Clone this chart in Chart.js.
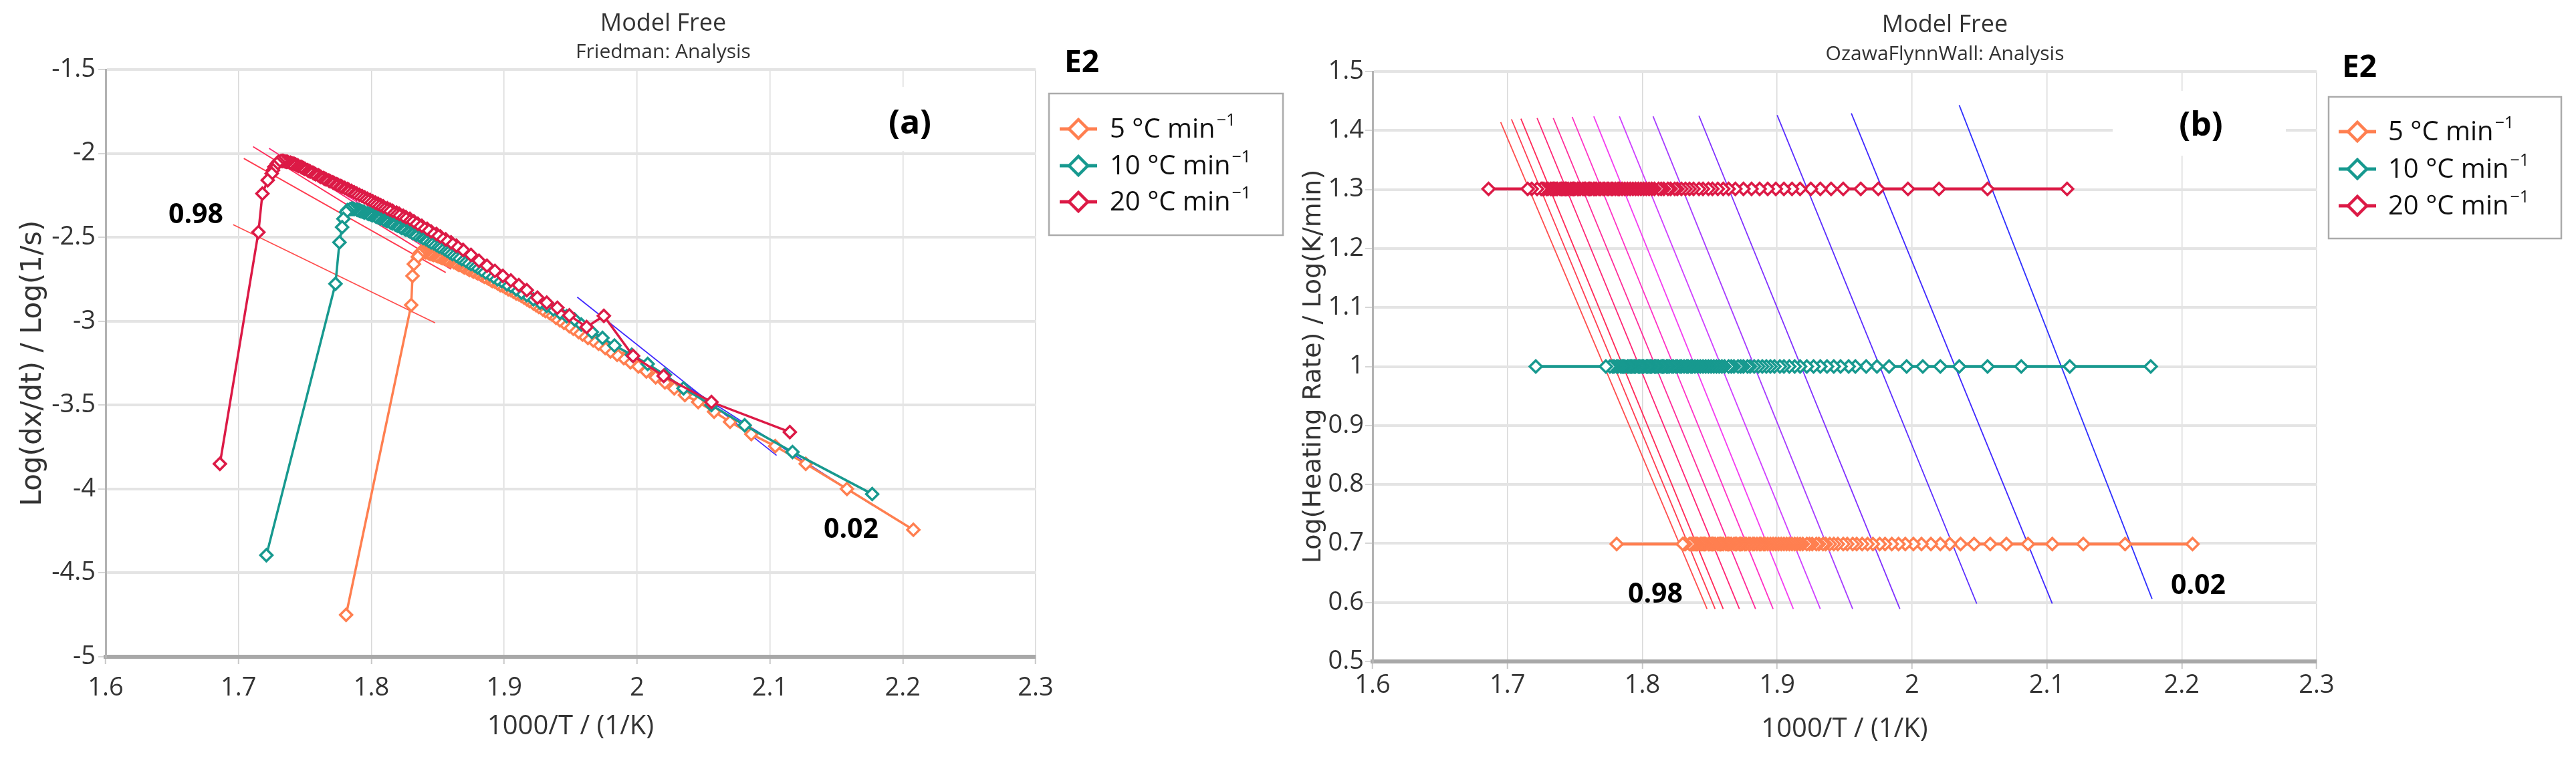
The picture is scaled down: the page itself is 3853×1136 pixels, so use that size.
<!DOCTYPE html>
<html>
<head>
<meta charset="utf-8">
<script src="https://cdn.jsdelivr.net/npm/chart.js@4.4.1/dist/chart.umd.min.js"></script>
<style>
  html, body { margin: 0; padding: 0; background: #fff; }
  body { width: 3853px; height: 1136px; position: relative; overflow: hidden; }
  canvas { position: absolute; top: 0; }
  #friedman { left: 0; }
  #ofw { left: 1935px; }
</style>
</head>
<body>
<canvas id="friedman" width="1935" height="1136"></canvas>
<canvas id="ofw" width="1918" height="1136"></canvas>
<script>
// conversion steps (alpha) shared by all heating rates
const conversion = [
  0.01, 0.02, 0.03, 0.04, 0.05, 0.06, 0.07, 0.08, 0.09, 0.10,
  0.11, 0.12, 0.13, 0.14, 0.15, 0.16, 0.17, 0.18, 0.19, 0.20,
  0.21, 0.22, 0.23, 0.24, 0.25, 0.26, 0.27, 0.28, 0.29, 0.30,
  0.31, 0.32, 0.33, 0.34, 0.35, 0.36, 0.37, 0.38, 0.39, 0.40,
  0.41, 0.42, 0.43, 0.44, 0.45, 0.46, 0.47, 0.48, 0.49, 0.50,
  0.51, 0.52, 0.53, 0.54, 0.55, 0.56, 0.57, 0.58, 0.59, 0.60,
  0.61, 0.62, 0.63, 0.64, 0.65, 0.66, 0.67, 0.68, 0.69, 0.70,
  0.71, 0.72, 0.73, 0.74, 0.75, 0.76, 0.77, 0.78, 0.79, 0.80,
  0.81, 0.82, 0.83, 0.84, 0.85, 0.86, 0.87, 0.88, 0.89, 0.90,
  0.91, 0.92, 0.93, 0.94, 0.95, 0.96, 0.97, 0.98, 0.99
]

// 1000/T at each conversion, 5 / 10 / 20 °C min-1
const x5 = [
  2.208, 2.158, 2.127, 2.104, 2.086, 2.070, 2.058, 2.046, 2.036, 2.028,
  2.021, 2.014, 2.007, 2.001, 1.995, 1.990, 1.985, 1.980, 1.976, 1.971,
  1.967, 1.963, 1.959, 1.956, 1.952, 1.949, 1.945, 1.942, 1.939, 1.936,
  1.934, 1.931, 1.929, 1.926, 1.924, 1.922, 1.919, 1.917, 1.915, 1.913,
  1.911, 1.909, 1.907, 1.905, 1.903, 1.901, 1.899, 1.897, 1.895, 1.893,
  1.891, 1.890, 1.888, 1.887, 1.885, 1.883, 1.882, 1.880, 1.879, 1.877,
  1.876, 1.874, 1.873, 1.872, 1.870, 1.869, 1.868, 1.866, 1.865, 1.864,
  1.863, 1.862, 1.860, 1.859, 1.858, 1.857, 1.856, 1.854, 1.853, 1.852,
  1.851, 1.850, 1.849, 1.847, 1.846, 1.845, 1.844, 1.843, 1.841, 1.840,
  1.839, 1.838, 1.837, 1.836, 1.835, 1.832, 1.831, 1.830, 1.781
]
const x10 = [
  2.177, 2.117, 2.081, 2.056, 2.035, 2.021, 2.008, 1.996, 1.983, 1.974,
  1.966, 1.958, 1.953, 1.947, 1.942, 1.937, 1.932, 1.927, 1.922, 1.917,
  1.913, 1.909, 1.905, 1.902, 1.898, 1.895, 1.892, 1.889, 1.886, 1.883,
  1.880, 1.878, 1.875, 1.873, 1.871, 1.868, 1.866, 1.864, 1.861, 1.859,
  1.857, 1.855, 1.853, 1.851, 1.849, 1.847, 1.845, 1.843, 1.841, 1.839,
  1.837, 1.836, 1.834, 1.833, 1.831, 1.829, 1.828, 1.826, 1.825, 1.823,
  1.822, 1.820, 1.819, 1.818, 1.816, 1.815, 1.814, 1.812, 1.811, 1.810,
  1.809, 1.807, 1.806, 1.805, 1.804, 1.803, 1.801, 1.800, 1.799, 1.798,
  1.797, 1.795, 1.794, 1.793, 1.792, 1.791, 1.790, 1.789, 1.787, 1.786,
  1.785, 1.784, 1.782, 1.781, 1.779, 1.778, 1.776, 1.773, 1.721
]
const x20 = [
  2.115, 2.056, 2.020, 1.997, 1.975, 1.962, 1.949, 1.940, 1.932, 1.925,
  1.917, 1.911, 1.905, 1.899, 1.893, 1.887, 1.881, 1.875, 1.869, 1.864,
  1.860, 1.856, 1.852, 1.849, 1.845, 1.842, 1.838, 1.835, 1.832, 1.829,
  1.826, 1.824, 1.821, 1.819, 1.816, 1.814, 1.812, 1.809, 1.807, 1.805,
  1.803, 1.801, 1.799, 1.797, 1.795, 1.793, 1.791, 1.789, 1.787, 1.785,
  1.783, 1.782, 1.780, 1.778, 1.777, 1.775, 1.774, 1.772, 1.771, 1.769,
  1.768, 1.766, 1.765, 1.764, 1.762, 1.761, 1.760, 1.758, 1.757, 1.756,
  1.754, 1.753, 1.752, 1.750, 1.749, 1.748, 1.747, 1.745, 1.744, 1.743,
  1.742, 1.741, 1.740, 1.739, 1.737, 1.736, 1.735, 1.734, 1.733, 1.732,
  1.730, 1.729, 1.727, 1.726, 1.725, 1.722, 1.718, 1.715, 1.686
]

// Friedman: Log(dx/dt) at each conversion
const fried5 = [
  -4.243, -4.000, -3.850, -3.745, -3.673, -3.600, -3.540, -3.482, -3.440, -3.400,
  -3.365, -3.335, -3.300, -3.270, -3.245, -3.220, -3.200, -3.180, -3.160, -3.135,
  -3.115, -3.100, -3.080, -3.065, -3.045, -3.030, -3.010, -2.995, -2.980, -2.960,
  -2.950, -2.940, -2.930, -2.915, -2.905, -2.895, -2.880, -2.870, -2.860, -2.850,
  -2.840, -2.835, -2.825, -2.815, -2.810, -2.800, -2.790, -2.785, -2.775, -2.765,
  -2.760, -2.755, -2.745, -2.740, -2.735, -2.725, -2.720, -2.715, -2.710, -2.705,
  -2.700, -2.695, -2.690, -2.685, -2.680, -2.675, -2.670, -2.665, -2.660, -2.655,
  -2.650, -2.648, -2.643, -2.640, -2.636, -2.633, -2.630, -2.625, -2.622, -2.618,
  -2.615, -2.612, -2.610, -2.605, -2.602, -2.600, -2.597, -2.594, -2.590, -2.587,
  -2.585, -2.585, -2.590, -2.600, -2.617, -2.660, -2.730, -2.904, -4.750
]
const fried10 = [
  -4.030, -3.780, -3.620, -3.500, -3.400, -3.320, -3.255, -3.200, -3.145, -3.100,
  -3.065, -3.020, -2.990, -2.970, -2.950, -2.930, -2.910, -2.890, -2.870, -2.845,
  -2.830, -2.810, -2.790, -2.780, -2.760, -2.750, -2.735, -2.720, -2.710, -2.695,
  -2.680, -2.670, -2.660, -2.650, -2.640, -2.630, -2.620, -2.610, -2.600, -2.590,
  -2.580, -2.570, -2.560, -2.555, -2.545, -2.535, -2.530, -2.520, -2.510, -2.505,
  -2.495, -2.490, -2.485, -2.480, -2.475, -2.465, -2.460, -2.455, -2.450, -2.445,
  -2.440, -2.432, -2.428, -2.424, -2.417, -2.413, -2.410, -2.403, -2.400, -2.396,
  -2.393, -2.387, -2.384, -2.380, -2.377, -2.374, -2.368, -2.365, -2.362, -2.360,
  -2.357, -2.352, -2.349, -2.346, -2.343, -2.340, -2.338, -2.335, -2.332, -2.330,
  -2.330, -2.332, -2.338, -2.350, -2.390, -2.440, -2.530, -2.777, -4.395
]
const fried20 = [
  -3.661, -3.482, -3.327, -3.207, -2.968, -3.035, -2.965, -2.920, -2.890, -2.860,
  -2.815, -2.785, -2.757, -2.730, -2.700, -2.670, -2.640, -2.605, -2.575, -2.550,
  -2.530, -2.512, -2.495, -2.480, -2.465, -2.450, -2.432, -2.420, -2.405, -2.390,
  -2.380, -2.372, -2.360, -2.353, -2.342, -2.335, -2.327, -2.316, -2.308, -2.300,
  -2.293, -2.285, -2.277, -2.270, -2.262, -2.254, -2.247, -2.240, -2.232, -2.224,
  -2.217, -2.213, -2.206, -2.199, -2.195, -2.188, -2.184, -2.177, -2.173, -2.166,
  -2.162, -2.155, -2.151, -2.147, -2.140, -2.135, -2.130, -2.124, -2.120, -2.115,
  -2.108, -2.104, -2.100, -2.092, -2.088, -2.084, -2.080, -2.074, -2.070, -2.066,
  -2.063, -2.060, -2.058, -2.055, -2.050, -2.050, -2.048, -2.045, -2.045, -2.045,
  -2.050, -2.060, -2.080, -2.100, -2.120, -2.160, -2.240, -2.470, -3.850
]

// OFW: Log(heating rate) for 5 / 10 / 20
const logRate = [0.699, 1.0, 1.301]

// isoconversional fit lines
const fitConversion = [0.98, 0.95, 0.9, 0.8, 0.7, 0.6, 0.5, 0.4, 0.3, 0.2, 0.1, 0.05, 0.02]
const fitColors = [
  '#ff4d4d', '#ff3b4f', '#ff2a58', '#ff2474', '#ff2a98', '#ff30c4', '#f43cf0',
  '#cf40ff', '#a63cff', '#8030ff', '#5a2cff', '#4028ff', '#3030ff'
]
const friedFitX0 = [1.696, 1.704, 1.711, 1.723, 1.736, 1.749, 1.765, 1.785, 1.809, 1.844, 1.905, 1.955, 2.036]
const friedFitY0 = [-2.425, -2.03, -1.96, -1.97, -2.02, -2.06, -2.13, -2.21, -2.30, -2.44, -2.75, -2.857, -3.38]
const friedFitX1 = [1.848, 1.856, 1.860, 1.872, 1.884, 1.897, 1.913, 1.933, 1.956, 1.991, 2.048, 2.105, 2.178]
const friedFitY1 = [-3.01, -2.71, -2.69, -2.72, -2.77, -2.82, -2.88, -2.97, -3.06, -3.24, -3.50, -3.80, -4.10]
const ofwFitX0 = [1.695, 1.703, 1.710, 1.722, 1.734, 1.748, 1.764, 1.783, 1.808, 1.842, 1.900, 1.955, 2.035]
const ofwFitY0 = [1.414, 1.419, 1.420, 1.421, 1.421, 1.423, 1.424, 1.424, 1.424, 1.425, 1.426, 1.429, 1.443]
const ofwFitX1 = [1.848, 1.854, 1.860, 1.872, 1.884, 1.897, 1.912, 1.932, 1.956, 1.991, 2.048, 2.104, 2.178]
const ofwFitY1 = [0.589, 0.589, 0.589, 0.589, 0.589, 0.589, 0.589, 0.589, 0.589, 0.589, 0.598, 0.598, 0.606]

const rateLabels = ['5 °C min', '10 °C min', '20 °C min']
const rateColors = ['#ff7f50', '#17998f', '#dc1a46']

const FONT = '"Open Sans", "Liberation Sans", sans-serif'
const AXIS_TITLE_FONT = '"DejaVu Sans", sans-serif'

function markerSet(i, points, lineW) {
  return {
    label: rateLabels[i],
    data: points,
    showLine: true,
    borderColor: rateColors[i],
    borderWidth: lineW,
    pointStyle: 'rectRot',
    pointRadius: 9,
    pointBorderColor: rateColors[i],
    pointBackgroundColor: '#fff',
    pointBorderWidth: 3.5
  }
}

function fitSet(i, x0, y0, x1, y1) {
  return {
    label: 'α = ' + fitConversion[i],
    data: [{ x: x0[i], y: y0[i] }, { x: x1[i], y: y1[i] }],
    showLine: true,
    borderColor: fitColors[i],
    borderWidth: 1.8,
    pointRadius: 0
  }
}

const fmt = v => String(Math.round(v * 100) / 100)

function axes(o) {
  return {
    x: {
      type: 'linear', min: 1.6, max: 2.3,
      ticks: { stepSize: 0.1, font: { family: FONT, size: 38 }, color: '#333', padding: o.xTickPad, callback: fmt },
      grid: { color: '#d9d9d9', lineWidth: 1.5, tickLength: 11, tickColor: '#c8c8c8', tickWidth: 2 },
      border: { display: true, color: '#a8a8a8', width: 6 },
      title: { display: true, text: '1000/T / (1/K)', font: { family: FONT, size: 40 }, color: '#333', padding: { top: 0, bottom: o.xTitlePad } },
      afterFit: s => { s.height = o.xH }
    },
    y: {
      type: 'linear', min: o.yMin, max: o.yMax,
      ticks: { stepSize: o.yStep, font: { family: FONT, size: 38 }, color: '#333', padding: o.yTickPad, callback: fmt },
      grid: { color: '#e4e4e4', lineWidth: 4, tickLength: 11, tickColor: '#d6d6d6', tickWidth: 2 },
      border: { display: true, color: '#b3b3b3', width: 3 },
      title: { display: true, text: o.yTitle, font: { family: AXIS_TITLE_FONT, size: o.yTitleSize }, color: '#333', padding: { top: o.yTitlePad, bottom: 0 } },
      afterFit: s => { s.width = o.yW }
    }
  }
}

function drawDiamond(ctx, cx, cy, r) {
  ctx.beginPath()
  ctx.moveTo(cx - r, cy)
  ctx.lineTo(cx, cy - r)
  ctx.lineTo(cx + r, cy)
  ctx.lineTo(cx, cy + r)
  ctx.closePath()
}

// titles, tag box, alpha labels and the boxed legend
function overlay(cfg) {
  return {
    id: 'overlay',
    beforeDatasetsDraw(chart) {
      const ctx = chart.ctx
      const b = cfg.tag.box
      ctx.save()
      ctx.fillStyle = '#fff'
      ctx.fillRect(b[0], b[1], b[2], b[3])
      ctx.restore()
    },
    afterDraw(chart) {
      const ctx = chart.ctx
      ctx.save()
      ctx.textAlign = 'center'
      ctx.textBaseline = 'middle'
      ctx.fillStyle = '#333'
      ctx.font = `36px ${FONT}`
      ctx.fillText('Model Free', cfg.titleX, cfg.titleY)
      ctx.font = `30px ${FONT}`
      ctx.fillText(cfg.subtitle, cfg.titleX, cfg.subY)

      ctx.fillStyle = '#000'
      ctx.font = `bold 50px ${FONT}`
      ctx.fillText(cfg.tag.text, cfg.tag.x, cfg.tag.y)
      ctx.font = `bold 41px ${FONT}`
      cfg.marks.forEach(m => ctx.fillText(m.text, m.x, m.y))

      const L = cfg.legend
      ctx.textAlign = 'left'
      ctx.font = `bold 46px ${FONT}`
      ctx.fillText('E2', L.e2x, L.e2y)
      ctx.strokeStyle = '#ababab'
      ctx.lineWidth = 2.5
      ctx.strokeRect(L.x, L.y, L.w, L.h)
      rateLabels.forEach((lab, i) => {
        const cy = L.rowY[i]
        ctx.strokeStyle = rateColors[i]
        ctx.lineWidth = 5
        ctx.beginPath()
        ctx.moveTo(L.iconX - 28, cy)
        ctx.lineTo(L.iconX + 28, cy)
        ctx.stroke()
        drawDiamond(ctx, L.iconX, cy, 14)
        ctx.fillStyle = '#fff'
        ctx.fill()
        ctx.lineWidth = 4.5
        ctx.stroke()
        ctx.fillStyle = '#111'
        ctx.font = `40px ${FONT}`
        ctx.fillText(lab, L.textX, cy + 2)
        const w = ctx.measureText(lab).width
        ctx.font = `25px ${FONT}`
        ctx.fillText('\u22121', L.textX + w + 2, cy - 12)
      })
      ctx.restore()
    }
  }
}

const friedPts = [
  x5.map((x, i) => ({ x, y: fried5[i] })),
  x10.map((x, i) => ({ x, y: fried10[i] })),
  x20.map((x, i) => ({ x, y: fried20[i] }))
]
const ofwPts = [
  x5.map(x => ({ x, y: logRate[0] })),
  x10.map(x => ({ x, y: logRate[1] })),
  x20.map(x => ({ x, y: logRate[2] }))
]

new Chart(document.getElementById('friedman'), {
  type: 'scatter',
  data: {
    datasets: [
      markerSet(2, friedPts[2], 3.5), markerSet(1, friedPts[1], 3.5), markerSet(0, friedPts[0], 3.5),
      ...fitConversion.map((c, i) => fitSet(i, friedFitX0, friedFitY0, friedFitX1, friedFitY1))
    ]
  },
  options: {
    responsive: false,
    devicePixelRatio: 1,
    animation: false,
    layout: { padding: { top: 104, right: 386, bottom: 0, left: 0 } },
    plugins: { legend: { display: false }, tooltip: { enabled: false } },
    scales: axes({
      yMin: -5, yMax: -1.5, yStep: 0.5, yTitle: 'Log(dx/dt) / Log(1/s)', yTitleSize: 42,
      yTitlePad: 25, yTickPad: 4, yW: 158, xH: 153, xTickPad: 13, xTitlePad: 24
    })
  },
  plugins: [overlay({
    titleX: 992, titleY: 36, subY: 78, subtitle: 'Friedman: Analysis',
    tag: { text: '(a)', x: 1361, y: 186, box: [1245, 130, 235, 96] },
    marks: [{ text: '0.98', x: 293, y: 322 }, { text: '0.02', x: 1273, y: 793 }],
    legend: { x: 1569, y: 140, w: 350, h: 212, e2x: 1592, e2y: 95, iconX: 1613, rowY: [193, 248, 302], textX: 1660 }
  })]
})

new Chart(document.getElementById('ofw'), {
  type: 'scatter',
  data: {
    datasets: [
      markerSet(2, ofwPts[2], 4.5), markerSet(1, ofwPts[1], 4.5), markerSet(0, ofwPts[0], 4.5),
      ...fitConversion.map((c, i) => fitSet(i, ofwFitX0, ofwFitY0, ofwFitX1, ofwFitY1))
    ]
  },
  options: {
    responsive: false,
    devicePixelRatio: 1,
    animation: false,
    layout: { padding: { top: 107, right: 388, bottom: 0, left: 0 } },
    plugins: { legend: { display: false }, tooltip: { enabled: false } },
    scales: axes({
      yMin: 0.5, yMax: 1.5, yStep: 0.1, yTitle: 'Log(Heating Rate) / Log(K/min)', yTitleSize: 38,
      yTitlePad: 7, yTickPad: 2, yW: 118, xH: 146, xTickPad: 2, xTitlePad: 20
    })
  },
  plugins: [overlay({
    titleX: 974, titleY: 38, subY: 81, subtitle: 'OzawaFlynnWall: Analysis',
    tag: { text: '(b)', x: 1357, y: 189, box: [1225, 136, 259, 97] },
    marks: [{ text: '0.98', x: 541, y: 890 }, { text: '0.02', x: 1353, y: 877 }],
    legend: { x: 1548, y: 145, w: 348, h: 212, e2x: 1568, e2y: 102, iconX: 1591, rowY: [197, 253, 308], textX: 1637 }
  })]
})
</script>
</body>
</html>
